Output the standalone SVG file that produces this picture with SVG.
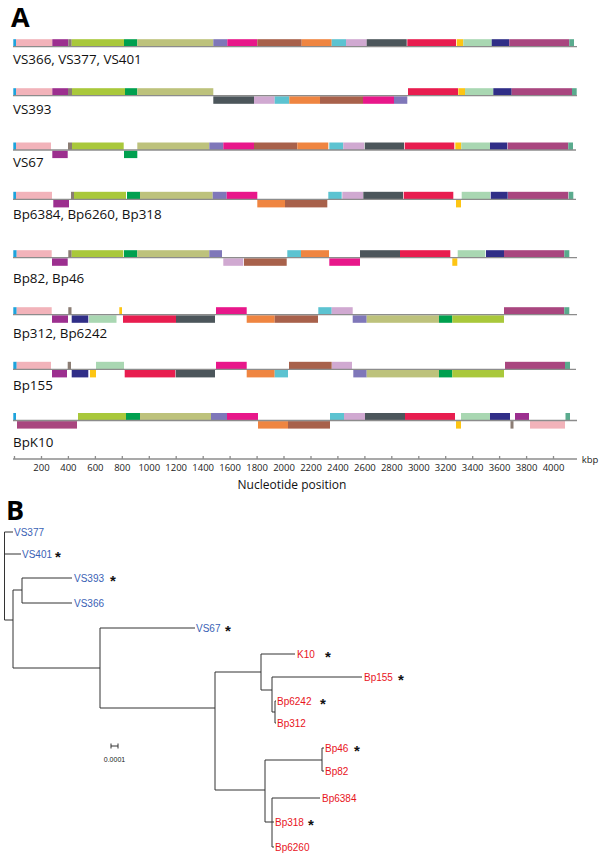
<svg xmlns="http://www.w3.org/2000/svg" width="600" height="865" viewBox="0 0 600 865">
<style>
.blu{fill:#1ea3dc}.pnk{fill:#f2b3ba}.pur{fill:#9c2f8f}.gsm{fill:#8b7d74}.yg{fill:#a9c83b}.grn{fill:#00a04f}.khk{fill:#bdc27c}.lav{fill:#7f77b9}.mag{fill:#e8178a}.brn{fill:#a8614b}.org{fill:#ef8541}.cyn{fill:#5cc3d1}.lil{fill:#d0a9d1}.dgy{fill:#4c565b}.red{fill:#e81d4f}.yel{fill:#fdc514}.lgr{fill:#a9d7b2}.nvy{fill:#302e87}.plm{fill:#a9467f}.tel{fill:#5aab8e}
.base{stroke:#8c8c8c;stroke-width:1.3;fill:none}
.rl{font-family:"Open Sans","Liberation Sans",sans-serif;font-size:13.4px;fill:#111}
.tick{font-family:"Open Sans","Liberation Sans",sans-serif;font-size:9.5px;fill:#222;text-anchor:middle}
.pl{font-family:"Open Sans","Liberation Sans",sans-serif;font-size:27px;font-weight:bold;fill:#000}
.tr{stroke:#333;stroke-width:1;fill:none}
.tv{font-family:"Liberation Sans",Arial,sans-serif;font-size:10px;fill:#3a62b5}
.tb{font-family:"Liberation Sans",Arial,sans-serif;font-size:10px;fill:#e8141c}
.ast{font-family:"Liberation Sans",Arial,sans-serif;font-size:15px;font-weight:bold;fill:#111}
</style>
<text class="pl" x="11" y="27">A</text>
<text class="pl" x="6" y="520">B</text>

<!-- Row 1 -->
<g id="row1">
<rect class="blu" x="13.3" y="39.2" width="2.7" height="7.5"/><rect class="pnk" x="16" y="39.2" width="36.3" height="7.5"/><rect class="pur" x="52.3" y="39.2" width="16" height="7.5"/><rect class="gsm" x="68.3" y="39.2" width="3.4" height="7.5"/><rect class="yg" x="71.7" y="39.2" width="52.3" height="7.5"/><rect class="grn" x="124" y="39.2" width="13.3" height="7.5"/><rect class="khk" x="137.3" y="39.2" width="76" height="7.5"/><rect class="lav" x="213.3" y="39.2" width="14" height="7.5"/><rect class="mag" x="227.3" y="39.2" width="30" height="7.5"/><rect class="brn" x="257.3" y="39.2" width="44.4" height="7.5"/><rect class="org" x="301.7" y="39.2" width="30" height="7.5"/><rect class="cyn" x="331.7" y="39.2" width="14.3" height="7.5"/><rect class="lil" x="346" y="39.2" width="20.7" height="7.5"/><rect class="dgy" x="366.7" y="39.2" width="40" height="7.5"/><rect class="red" x="407.3" y="39.2" width="48.7" height="7.5"/><rect class="yel" x="456.7" y="39.2" width="6.6" height="7.5"/><rect class="lgr" x="463.3" y="39.2" width="28.4" height="7.5"/><rect class="nvy" x="491.7" y="39.2" width="17.6" height="7.5"/><rect class="plm" x="509.3" y="39.2" width="60" height="7.5"/><rect class="tel" x="569.3" y="39.2" width="4.7" height="7.5"/>
<line class="base" x1="13" y1="46.7" x2="577" y2="46.7"/>
<text class="rl" x="13" y="64">VS366, VS377, VS401</text>
</g>

<!-- Row 2 -->
<g id="row2">
<rect class="blu" x="13.3" y="88.2" width="2.7" height="7.5"/><rect class="pnk" x="16" y="88.2" width="36.3" height="7.5"/><rect class="pur" x="52.3" y="88.2" width="15.7" height="7.5"/><rect class="gsm" x="68" y="88.2" width="4" height="7.5"/><rect class="yg" x="72" y="88.2" width="53" height="7.5"/><rect class="grn" x="125" y="88.2" width="12.3" height="7.5"/><rect class="khk" x="137.3" y="88.2" width="76" height="7.5"/>
<rect class="dgy" x="213.3" y="96.3" width="40.7" height="7.5"/><rect class="lil" x="254" y="96.3" width="20.7" height="7.5"/><rect class="cyn" x="274.7" y="96.3" width="14.6" height="7.5"/><rect class="org" x="289.3" y="96.3" width="30.7" height="7.5"/><rect class="brn" x="320" y="96.3" width="43" height="7.5"/><rect class="mag" x="363" y="96.3" width="31" height="7.5"/><rect class="lav" x="394" y="96.3" width="13.3" height="7.5"/>
<rect class="red" x="408" y="88.2" width="50" height="7.5"/><rect class="yel" x="458.3" y="88.2" width="6.7" height="7.5"/><rect class="lgr" x="465" y="88.2" width="28.3" height="7.5"/><rect class="nvy" x="493.3" y="88.2" width="18.4" height="7.5"/><rect class="plm" x="511.7" y="88.2" width="60.3" height="7.5"/><rect class="tel" x="572" y="88.2" width="4.7" height="7.5"/>
<line class="base" x1="13" y1="95.7" x2="577" y2="95.7"/>
<text class="rl" x="13" y="114">VS393</text>
</g>

<!-- Row 3 -->
<g id="row3">
<rect class="blu" x="13.3" y="142.5" width="2.7" height="7.5"/><rect class="pnk" x="16" y="142.5" width="35" height="7.5"/>
<rect class="pur" x="52.3" y="150.6" width="15.4" height="7.5"/>
<rect class="gsm" x="68" y="142.5" width="4" height="7.5"/><rect class="yg" x="72" y="142.5" width="51.7" height="7.5"/>
<rect class="grn" x="124" y="150.6" width="13.3" height="7.5"/>
<rect class="khk" x="137.3" y="142.5" width="72" height="7.5"/><rect class="lav" x="209.3" y="142.5" width="14" height="7.5"/><rect class="mag" x="223.3" y="142.5" width="30.7" height="7.5"/><rect class="brn" x="254" y="142.5" width="43.3" height="7.5"/><rect class="org" x="297.3" y="142.5" width="31" height="7.5"/><rect class="cyn" x="329.3" y="142.5" width="14" height="7.5"/><rect class="lil" x="343.3" y="142.5" width="20.7" height="7.5"/><rect class="dgy" x="364.7" y="142.5" width="39.3" height="7.5"/><rect class="red" x="404.7" y="142.5" width="49.6" height="7.5"/><rect class="yel" x="455.3" y="142.5" width="6" height="7.5"/><rect class="lgr" x="461.3" y="142.5" width="28.7" height="7.5"/><rect class="nvy" x="490" y="142.5" width="17.3" height="7.5"/><rect class="plm" x="507.7" y="142.5" width="60.6" height="7.5"/><rect class="tel" x="568.3" y="142.5" width="4.7" height="7.5"/>
<line class="base" x1="13" y1="150" x2="576" y2="150"/>
<text class="rl" x="13" y="167">VS67</text>
</g>

<!-- Row 4 -->
<g id="row4">
<rect class="blu" x="13.3" y="191.8" width="2.7" height="7.5"/><rect class="pnk" x="16" y="191.8" width="36" height="7.5"/>
<rect class="pur" x="53.3" y="199.9" width="15.7" height="7.5"/>
<rect class="gsm" x="71" y="191.8" width="3" height="7.5"/><rect class="yg" x="74" y="191.8" width="52" height="7.5"/><rect class="grn" x="127" y="191.8" width="13" height="7.5"/><rect class="khk" x="140" y="191.8" width="72.7" height="7.5"/><rect class="lav" x="212.7" y="191.8" width="14" height="7.5"/><rect class="mag" x="226.7" y="191.8" width="30.6" height="7.5"/>
<rect class="org" x="257.3" y="199.9" width="27.7" height="7.5"/><rect class="brn" x="285" y="199.9" width="42.3" height="7.5"/>
<rect class="cyn" x="328.3" y="191.8" width="13.4" height="7.5"/><rect class="lil" x="342.3" y="191.8" width="20.7" height="7.5"/><rect class="dgy" x="363.3" y="191.8" width="39.7" height="7.5"/><rect class="red" x="403.7" y="191.8" width="49.6" height="7.5"/>
<rect class="yel" x="456" y="199.9" width="5" height="7.5"/>
<rect class="lgr" x="461.7" y="191.8" width="28.3" height="7.5"/><rect class="nvy" x="490.7" y="191.8" width="17" height="7.5"/><rect class="plm" x="508" y="191.8" width="60.3" height="7.5"/><rect class="tel" x="568.7" y="191.8" width="4.6" height="7.5"/>
<line class="base" x1="13" y1="199.3" x2="576" y2="199.3"/>
<text class="rl" x="13" y="218.5">Bp6384, Bp6260, Bp318</text>
</g>

<!-- Row 5 -->
<g id="row5">
<rect class="blu" x="13.3" y="250.2" width="3.4" height="7.5"/><rect class="pnk" x="16.7" y="250.2" width="35" height="7.5"/>
<rect class="pur" x="52" y="258.3" width="15.7" height="7.5"/>
<rect class="gsm" x="68.3" y="250.2" width="3.4" height="7.5"/><rect class="yg" x="71.7" y="250.2" width="51.6" height="7.5"/><rect class="grn" x="124" y="250.2" width="13.3" height="7.5"/><rect class="khk" x="137.3" y="250.2" width="72" height="7.5"/><rect class="lav" x="209.3" y="250.2" width="12.7" height="7.5"/>
<rect class="lil" x="223.3" y="258.3" width="20" height="7.5"/><rect class="brn" x="244" y="258.3" width="42.7" height="7.5"/>
<rect class="cyn" x="287.3" y="250.2" width="13.7" height="7.5"/><rect class="org" x="301" y="250.2" width="28" height="7.5"/>
<rect class="mag" x="329.3" y="258.3" width="30.7" height="7.5"/>
<rect class="dgy" x="360" y="250.2" width="40" height="7.5"/><rect class="red" x="400" y="250.2" width="50.3" height="7.5"/>
<rect class="yel" x="452.3" y="258.3" width="5" height="7.5"/>
<rect class="lgr" x="457.7" y="250.2" width="27.6" height="7.5"/><rect class="nvy" x="486" y="250.2" width="18" height="7.5"/><rect class="plm" x="504" y="250.2" width="60.3" height="7.5"/><rect class="tel" x="564.3" y="250.2" width="5" height="7.5"/>
<line class="base" x1="13" y1="257.7" x2="577" y2="257.7"/>
<text class="rl" x="13" y="282.5">Bp82, Bp46</text>
</g>

<!-- Row 6 -->
<g id="row6">
<rect class="blu" x="13.3" y="307.2" width="3.4" height="7.5"/><rect class="pnk" x="16.7" y="307.2" width="35" height="7.5"/>
<rect class="pur" x="52" y="315.3" width="16" height="7.5"/>
<rect class="gsm" x="68.3" y="307.2" width="3.2" height="7.5"/>
<rect class="nvy" x="71.7" y="315.3" width="16.6" height="7.5"/><rect class="lgr" x="89" y="315.3" width="27.5" height="7.5"/>
<rect class="yel" x="119.3" y="307.2" width="2.7" height="7.5"/>
<rect class="red" x="123" y="315.3" width="53" height="7.5"/><rect class="dgy" x="176" y="315.3" width="39" height="7.5"/>
<rect class="mag" x="216" y="307.2" width="30.7" height="7.5"/>
<rect class="org" x="246.7" y="315.3" width="28" height="7.5"/><rect class="brn" x="274.7" y="315.3" width="43.3" height="7.5"/>
<rect class="cyn" x="318.3" y="307.2" width="13.4" height="7.5"/><rect class="lil" x="331.7" y="307.2" width="21" height="7.5"/>
<rect class="lav" x="352.7" y="315.3" width="14" height="7.5"/><rect class="khk" x="366.7" y="315.3" width="72.3" height="7.5"/><rect class="grn" x="439" y="315.3" width="13.3" height="7.5"/><rect class="yg" x="452.3" y="315.3" width="51.7" height="7.5"/>
<rect class="plm" x="504" y="307.2" width="60.3" height="7.5"/><rect class="tel" x="564.3" y="307.2" width="5" height="7.5"/>
<line class="base" x1="13" y1="314.7" x2="577" y2="314.7"/>
<text class="rl" x="13" y="338">Bp312, Bp6242</text>
</g>

<!-- Row 7 -->
<g id="row7">
<rect class="blu" x="13.3" y="361.8" width="3.4" height="7.5"/><rect class="pnk" x="16.7" y="361.8" width="34.3" height="7.5"/>
<rect class="pur" x="52" y="369.9" width="15" height="7.5"/>
<rect class="gsm" x="67.7" y="361.8" width="3.3" height="7.5"/>
<rect class="nvy" x="71.7" y="369.9" width="16.6" height="7.5"/><rect class="yel" x="90" y="369.9" width="6" height="7.5"/>
<rect class="lgr" x="96" y="361.8" width="28" height="7.5"/>
<rect class="red" x="124.7" y="369.9" width="50.6" height="7.5"/><rect class="dgy" x="175.7" y="369.9" width="39.3" height="7.5"/>
<rect class="mag" x="216" y="361.8" width="30.7" height="7.5"/>
<rect class="org" x="246.7" y="369.9" width="28" height="7.5"/><rect class="cyn" x="274.7" y="369.9" width="13.3" height="7.5"/>
<rect class="brn" x="289" y="361.8" width="42.7" height="7.5"/><rect class="lil" x="332" y="361.8" width="20" height="7.5"/>
<rect class="lav" x="353.3" y="369.9" width="13.4" height="7.5"/><rect class="khk" x="366.7" y="369.9" width="72.3" height="7.5"/><rect class="grn" x="439" y="369.9" width="13.3" height="7.5"/><rect class="yg" x="452.3" y="369.9" width="51.7" height="7.5"/>
<rect class="plm" x="505" y="361.8" width="60" height="7.5"/><rect class="tel" x="565" y="361.8" width="5" height="7.5"/>
<line class="base" x1="13" y1="369.3" x2="576" y2="369.3"/>
<text class="rl" x="13" y="390">Bp155</text>
</g>

<!-- Row 8 -->
<g id="row8">
<rect class="blu" x="13.3" y="413" width="2.7" height="7.5"/>
<rect class="plm" x="17" y="421.1" width="60" height="7.5"/>
<rect class="yg" x="78" y="413" width="48" height="7.5"/><rect class="grn" x="126" y="413" width="14" height="7.5"/><rect class="khk" x="140" y="413" width="71" height="7.5"/><rect class="lav" x="211" y="413" width="16" height="7.5"/><rect class="mag" x="227" y="413" width="31" height="7.5"/>
<rect class="org" x="258" y="421.1" width="30" height="7.5"/><rect class="brn" x="288" y="421.1" width="42" height="7.5"/>
<rect class="cyn" x="330" y="413" width="14" height="7.5"/><rect class="lil" x="344" y="413" width="21" height="7.5"/><rect class="dgy" x="365" y="413" width="40" height="7.5"/><rect class="red" x="405" y="413" width="50" height="7.5"/>
<rect class="yel" x="456" y="421.1" width="5" height="7.5"/>
<rect class="lgr" x="461" y="413" width="29" height="7.5"/><rect class="nvy" x="490" y="413" width="20" height="7.5"/>
<rect class="gsm" x="510.5" y="421.1" width="3" height="7.5"/>
<rect class="pur" x="515" y="413" width="14" height="7.5"/>
<rect class="pnk" x="530" y="421.1" width="35" height="7.5"/>
<rect class="tel" x="565.5" y="413" width="4.5" height="7.5"/>
<line class="base" x1="13" y1="420.5" x2="577" y2="420.5"/>
<text class="rl" x="13" y="446.5">BpK10</text>
</g>

<!-- Axis -->
<g id="axis">
<line class="base" x1="13" y1="459" x2="577" y2="459"/>
<path class="base" d="M14.5 459v-3M41.5 459v-3M68.4 459v-3M95.4 459v-3M122.3 459v-3M149.3 459v-3M176.2 459v-3M203.2 459v-3M230.1 459v-3M257.1 459v-3M284 459v-3M311 459v-3M337.9 459v-3M364.9 459v-3M391.8 459v-3M418.8 459v-3M445.7 459v-3M472.7 459v-3M499.6 459v-3M526.6 459v-3M553.5 459v-3"/>
<text class="tick" x="41.5" y="470.5">200</text><text class="tick" x="68.4" y="470.5">400</text><text class="tick" x="95.4" y="470.5">600</text><text class="tick" x="122.3" y="470.5">800</text><text class="tick" x="149.3" y="470.5">1000</text><text class="tick" x="176.2" y="470.5">1200</text><text class="tick" x="203.2" y="470.5">1400</text><text class="tick" x="230.1" y="470.5">1600</text><text class="tick" x="257.1" y="470.5">1800</text><text class="tick" x="284" y="470.5">2000</text><text class="tick" x="311" y="470.5">2200</text><text class="tick" x="337.9" y="470.5">2400</text><text class="tick" x="364.9" y="470.5">2600</text><text class="tick" x="391.8" y="470.5">2800</text><text class="tick" x="418.8" y="470.5">3000</text><text class="tick" x="445.7" y="470.5">3200</text><text class="tick" x="472.7" y="470.5">3400</text><text class="tick" x="499.6" y="470.5">3600</text><text class="tick" x="526.6" y="470.5">3800</text><text class="tick" x="553.5" y="470.5">4000</text>
<text class="tick" x="590" y="463">kbp</text>
<text class="rl" x="292" y="488.5" text-anchor="middle" style="font-size:12px">Nucleotide position</text>
</g>

<!-- Tree connectors -->
<g id="tree-edges">
<path class="tr" d="M4.5 532V620M4.5 532H13M4.5 554H21M4.5 620H13M13 590V668M13 590H22M22 578V603M22 578H72M22 603H72M13 668H100M100 628V708M100 628H195M100 708H215M215 672V790M215 672H261M261 654V690M261 654H295M261 690H272M272 677V712M272 677H362M272 712H275M275 701V723M275 701H276M275 723H276M215 790H265M265 760V822M265 760H322M322 748V771M322 748H324M322 771H324M265 822H272M272 798V847M272 798H320M272 822H274M272 847H274"/>
</g>

<g id="tip-VS377"><text class="tv" x="14" y="536">VS377</text></g>
<g id="tip-VS401"><text class="tv" x="22" y="557.5">VS401</text><text class="ast" x="55" y="562">*</text></g>
<g id="tip-VS393"><text class="tv" x="74" y="581.5">VS393</text><text class="ast" x="110" y="586">*</text></g>
<g id="tip-VS366"><text class="tv" x="74" y="606.5">VS366</text></g>
<g id="tip-VS67"><text class="tv" x="196" y="631.5">VS67</text><text class="ast" x="225" y="636">*</text></g>
<g id="tip-K10"><text class="tb" x="297" y="657.5">K10</text><text class="ast" x="325" y="662">*</text></g>
<g id="tip-Bp155"><text class="tb" x="364" y="680.5">Bp155</text><text class="ast" x="398" y="685">*</text></g>
<g id="tip-Bp6242"><text class="tb" x="277" y="704.5">Bp6242</text><text class="ast" x="320" y="709">*</text></g>
<g id="tip-Bp312"><text class="tb" x="277" y="726.5">Bp312</text></g>
<g id="tip-Bp46"><text class="tb" x="325" y="751.5">Bp46</text><text class="ast" x="354" y="756">*</text></g>
<g id="tip-Bp82"><text class="tb" x="325" y="774.5">Bp82</text></g>
<g id="tip-Bp6384"><text class="tb" x="322" y="801.5">Bp6384</text></g>
<g id="tip-Bp318"><text class="tb" x="275" y="825.5">Bp318</text><text class="ast" x="308" y="830">*</text></g>
<g id="tip-Bp6260"><text class="tb" x="275" y="850.5">Bp6260</text></g>

<g id="scalebar">
<path class="tr" d="M111 746H118M111 743.5V748.5M118 743.5V748.5"/>
<text x="114.5" y="762" style="font-family:'Liberation Sans',Arial,sans-serif;font-size:7px;fill:#222" text-anchor="middle">0.0001</text>
</g>
</svg>
